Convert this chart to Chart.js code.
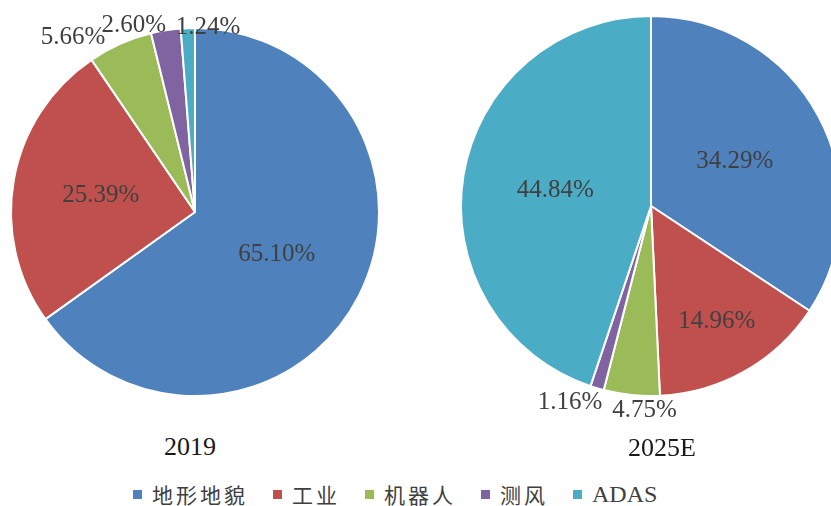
<!DOCTYPE html>
<html>
<head>
<meta charset="utf-8">
<script src="https://cdn.jsdelivr.net/npm/chart.js@4/dist/chart.umd.min.js"></script>
<style>
  html, body { margin: 0; padding: 0; background: #fff; overflow: hidden; }
  #wrap { position: relative; width: 831px; height: 506px; overflow: hidden; background: #fff; }
  canvas { position: absolute; }
  .ttl { position: absolute; font-family: "Liberation Serif", "DejaVu Serif", serif; font-size: 26px; color: #1a1a1a; transform: translate(-50%, -50%); white-space: nowrap; }
  #legend { position: absolute; left: 133px; top: 481px; height: 26px; display: flex; justify-content: flex-start; align-items: center; font-family: "Noto Sans CJK SC", "Liberation Serif", serif; font-size: 21px; color: #404040; }
  .li { display: flex; align-items: center; margin-right: 25px; }
  .sw { width: 9px; height: 9px; margin-right: 10px; }
  .li span.t { letter-spacing: 3px; }
  .li span.en { font-family: "Liberation Serif", serif; font-size: 24px; }
</style>
</head>
<body>
<div id="wrap">
  <canvas id="c1" width="415" height="430" style="left:0;top:0;"></canvas>
  <canvas id="c2" width="431" height="440" style="left:415px;top:0;"></canvas>
  <div class="ttl" id="t1" style="left:190px;top:447px;"></div>
  <div class="ttl" id="t2" style="left:662px;top:448px;"></div>
  <div id="legend"></div>
</div>
<script>
// ---- data ----
const categories = ["地形地貌", "工业", "机器人", "测风", "ADAS"];
const years = ["2019", "2025E"];
const share2019 = [65.10, 25.39, 5.66, 2.60, 1.24];
const share2025 = [34.29, 14.96, 4.75, 1.16, 44.84];
const colors = ["#4F81BD", "#C0504D", "#9BBB59", "#8064A2", "#4BACC6"];

// label placement (layout only): inner labels at a fraction of radius along mid-angle,
// outer labels at an offset from centre in radius units
const place2019 = [{f:0.50},{f:0.52},{dx:-0.663,dy:-0.946},{dx:-0.332,dy:-1.016},{dx:0.071,dy:-1.005}];
const place2025 = [{f:0.50},{f:0.70},{dx:-0.034,dy:1.074},{dx:-0.426,dy:1.032},{f:0.51}];

const pctLabels = {
  id: 'pctLabels',
  afterDatasetsDraw(chart, args, opts) {
    const ctx = chart.ctx;
    const meta = chart.getDatasetMeta(0);
    const data = chart.data.datasets[0].data;
    ctx.save();
    ctx.font = '25px "Liberation Serif", "DejaVu Serif", serif';
    ctx.fillStyle = '#404040';
    ctx.textAlign = 'center';
    ctx.textBaseline = 'middle';
    meta.data.forEach((arc, i) => {
      const p = arc.getProps(['x','y','startAngle','endAngle','outerRadius'], true);
      const pl = opts.place[i];
      let x, y;
      if (pl.f !== undefined) {
        const mid = (p.startAngle + p.endAngle) / 2;
        x = p.x + Math.cos(mid) * p.outerRadius * pl.f;
        y = p.y + Math.sin(mid) * p.outerRadius * pl.f;
      } else {
        x = p.x + pl.dx * p.outerRadius;
        y = p.y + pl.dy * p.outerRadius;
      }
      ctx.fillText(data[i].toFixed(2) + '%', x, y);
    });
    ctx.restore();
  }
};

function makePie(id, values, place, padding) {
  return new Chart(document.getElementById(id), {
    type: 'pie',
    data: {
      labels: categories,
      datasets: [{ data: values, backgroundColor: colors, borderColor: '#ffffff', borderWidth: 2 }]
    },
    options: {
      responsive: false,
      animation: false,
      devicePixelRatio: 1,
      layout: { padding: padding },
      plugins: {
        legend: { display: false },
        tooltip: { enabled: false },
        pctLabels: { place: place }
      }
    },
    plugins: [pctLabels]
  });
}

makePie('c1', share2019, place2019, {left: 10, top: 27, right: 35, bottom: 33});
makePie('c2', share2025, place2025, {left: 45, top: 15, right: 4, bottom: 43});

document.getElementById('t1').textContent = years[0];
document.getElementById('t2').textContent = years[1];

const lg = document.getElementById('legend');
categories.forEach((c, i) => {
  const d = document.createElement('div');
  d.className = 'li';
  const sw = document.createElement('div');
  sw.className = 'sw';
  sw.style.background = colors[i];
  const t = document.createElement('span');
  t.className = /^[A-Za-z]+$/.test(c) ? 'en' : 't';
  t.textContent = c;
  d.appendChild(sw); d.appendChild(t);
  lg.appendChild(d);
});
</script>
</body>
</html>
